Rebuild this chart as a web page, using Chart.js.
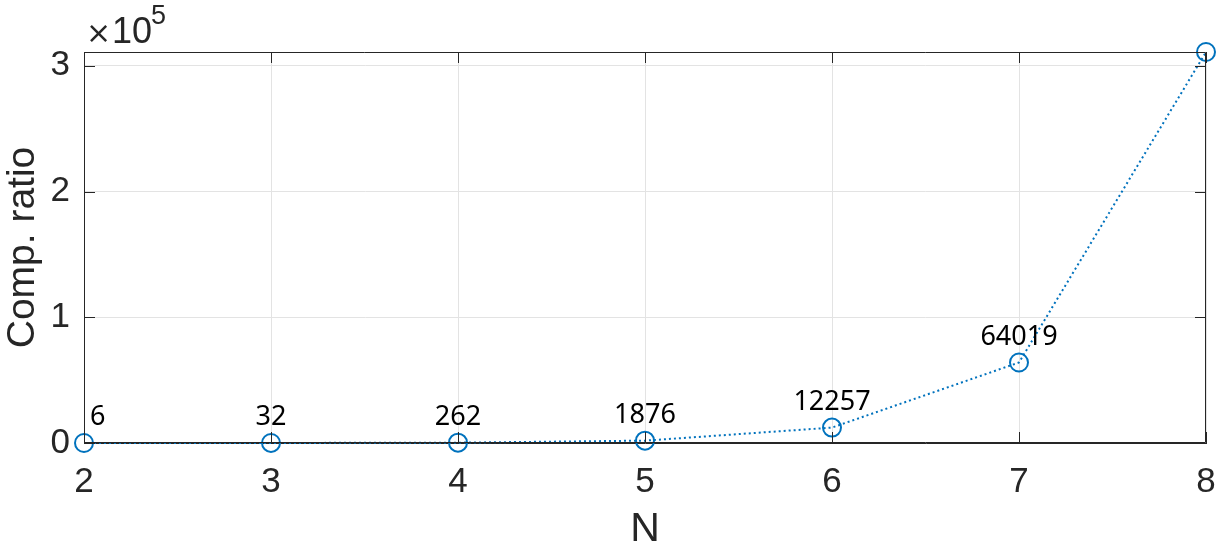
<!DOCTYPE html>
<html>
<head>
<meta charset="utf-8">
<script src="https://cdn.jsdelivr.net/npm/chart.js@4/dist/chart.umd.min.js"></script>
<style>
  html, body { margin: 0; padding: 0; background: #fff; }
  #wrap { width: 1230px; height: 548px; }
</style>
</head>
<body>
<div id="wrap"><canvas id="chart-ratio"></canvas></div>
<script>
var nValues = [2, 3, 4, 5, 6, 7, 8];
var compRatio = [6, 32, 262, 1876, 12257, 64019, 311000];
var pointLabels = ['6', '32', '262', '1876', '12257', '64019', ''];
var yTickValues = [0, 100000, 200000, 300000];
var yTickLabels = ['0', '1', '2', '3'];

var blue = '#0072BD';
var axisColor = '#262626';

// box, inward ticks, data labels and the x10^5 exponent, MATLAB style
var matlabDecor = {
  id: 'matlabDecor',
  afterDraw: function (chart) {
    var ctx = chart.ctx;
    var a = chart.chartArea;
    var xs = chart.scales.x, ys = chart.scales.y;
    var tl = 11;
    ctx.save();
    ctx.strokeStyle = axisColor;
    ctx.lineWidth = 1;
    ctx.beginPath();
    ctx.rect(a.left + 0.5, a.top + 0.5, a.right - a.left - 1, a.bottom - a.top - 1);
    xs.ticks.forEach(function (t) {
      var px = Math.round(xs.getPixelForValue(t.value)) + 0.5;
      ctx.moveTo(px, a.bottom); ctx.lineTo(px, a.bottom - tl);
      ctx.moveTo(px, a.top); ctx.lineTo(px, a.top + tl);
    });
    ys.ticks.forEach(function (t) {
      var py = Math.round(ys.getPixelForValue(t.value)) + 0.5;
      ctx.moveTo(a.left, py); ctx.lineTo(a.left + tl, py);
      ctx.moveTo(a.right, py); ctx.lineTo(a.right - tl, py);
    });
    ctx.stroke();

    // value labels above the points
    ctx.fillStyle = '#000';
    ctx.font = '27px "Noto Sans"';
    ctx.textAlign = 'center';
    ctx.textBaseline = 'alphabetic';
    var meta = chart.getDatasetMeta(0);
    meta.data.forEach(function (pt, i) {
      var txt = pointLabels[i];
      if (!txt) return;
      var w = ctx.measureText(txt).width;
      var cx = pt.x;
      if (cx - w / 2 < a.left + 6) cx = a.left + 6 + w / 2;
      ctx.fillText(txt, cx, pt.y - 18);
    });

    // exponent
    ctx.fillStyle = axisColor;
    ctx.textAlign = 'left';
    ctx.font = '30px "DejaVu Sans"';
    ctx.fillText('\u00d7', a.left + 2, a.top - 9);
    ctx.font = '36px "Liberation Sans"';
    ctx.fillText('10', a.left + 28, a.top - 9);
    ctx.font = '27px "Liberation Sans"';
    ctx.fillText('5', a.left + 67, a.top - 28);
    ctx.restore();
  }
};

var ctx2 = document.getElementById('chart-ratio').getContext('2d');

new Chart(ctx2, {
  type: 'line',
  data: {
    datasets: [{
      label: 'Comp. ratio',
      data: nValues.map(function (n, i) { return { x: n, y: compRatio[i] }; }),
      borderColor: blue,
      borderWidth: 2,
      borderDash: [2, 3],
      tension: 0,
      fill: false,
      pointStyle: 'circle',
      pointRadius: 9,
      pointBorderWidth: 2,
      pointBorderColor: blue,
      pointBackgroundColor: 'rgba(0,0,0,0)',
      clip: false
    }]
  },
  options: {
    responsive: true,
    maintainAspectRatio: false,
    animation: false,
    layout: { padding: { top: 52, right: 24, left: 0, bottom: 0 } },
    plugins: {
      legend: { display: false },
      tooltip: { enabled: false }
    },
    scales: {
      x: {
        type: 'linear',
        min: 2,
        max: 8,
        afterFit: function (s) {
          s.height = 105;
          s.paddingLeft = 0;
          s.paddingRight = 0;
        },
        grid: {
          color: '#e3e3e3',
          drawTicks: false
        },
        border: { display: true, color: axisColor },
        ticks: {
          stepSize: 1,
          padding: 18,
          color: axisColor,
          font: { size: 35, family: 'Liberation Sans' }
        },
        title: {
          display: true,
          text: 'N',
          color: axisColor,
          padding: { top: 0, bottom: -6 },
          font: { size: 41, family: 'Liberation Sans' }
        }
      },
      y: {
        min: 0,
        max: 311000,
        bounds: 'data',
        afterFit: function (s) { s.width = 84; },
        afterBuildTicks: function (s) {
          s.ticks = yTickValues.map(function (v) { return { value: v }; });
        },
        grid: {
          color: '#e3e3e3',
          drawTicks: false
        },
        border: { display: true, color: axisColor },
        ticks: {
          autoSkip: false,
          padding: 14,
          color: axisColor,
          font: { size: 35, family: 'Liberation Sans' },
          callback: function (v, i) { return yTickLabels[i]; }
        },
        title: {
          display: true,
          text: 'Comp. ratio',
          color: axisColor,
          padding: { top: 0, bottom: 2 },
          font: { size: 39, family: 'Liberation Sans' }
        }
      }
    }
  },
  plugins: [matlabDecor]
});
</script>
</body>
</html>
